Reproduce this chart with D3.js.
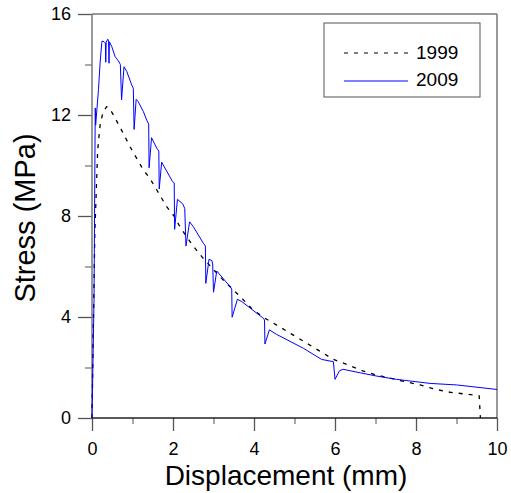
<!DOCTYPE html>
<html>
<head>
<meta charset="UTF-8">
<script src="https://d3js.org/d3.v7.min.js"></script>
<style>
  body { margin: 0; background: #fff; font-family: Arial, "Liberation Sans", sans-serif; }
  .tick text { font-size: 18px; fill: #000; font-family: Arial, "Liberation Sans", sans-serif; }
</style>
</head>
<body>
<svg id="chart" width="511" height="493"></svg>
<script>
// displacement (mm), stress (MPa)
const x1999 = [0, 0.03, 0.07, 0.14, 0.20, 0.27, 0.36, 0.42, 0.53, 0.77, 0.94, 1.10, 1.27, 1.43, 1.60, 1.84, 2.02, 2.15, 2.32, 2.50, 2.71, 3.20, 3.45, 3.70, 3.94, 4.23, 4.56, 4.87, 5.18, 5.51, 5.96, 6.33, 6.68, 7.03, 7.73, 8.10, 8.47, 8.84, 9.21, 9.56, 9.59];
const y1999 = [0, 3.37, 7.33, 10.61, 11.6, 12.1, 12.33, 12.3, 12.0, 11.28, 10.74, 10.29, 9.82, 9.49, 9.03, 8.38, 8.01, 7.64, 7.21, 6.81, 6.39, 5.53, 5.14, 4.74, 4.34, 3.99, 3.68, 3.38, 3.08, 2.76, 2.32, 2.10, 1.87, 1.70, 1.44, 1.31, 1.14, 1.02, 0.95, 0.88, 0];

const x2009 = [0, 0.05, 0.08, 0.09, 0.11, 0.16, 0.20, 0.24, 0.25, 0.30, 0.33, 0.34, 0.35, 0.39, 0.41, 0.42, 0.43, 0.49, 0.57, 0.65, 0.70, 0.73, 0.79, 0.86, 0.98, 1.02, 1.04, 1.09, 1.14, 1.27, 1.35, 1.40, 1.41, 1.47, 1.60, 1.65, 1.66, 1.72, 1.99, 2.03, 2.04, 2.11, 2.24, 2.29, 2.32, 2.41, 2.50, 2.75, 2.80, 2.81, 2.89, 2.96, 2.98, 3.00, 3.08, 3.41, 3.45, 3.46, 3.59, 3.70, 4.23, 4.26, 4.27, 4.38, 4.56, 5.22, 5.67, 5.96, 6.00, 6.11, 6.20, 6.62, 7.03, 7.52, 8.35, 9.00, 10.0];
const y2009 = [0, 4.67, 12.28, 11.6, 12.0, 13.0, 14.06, 14.84, 14.93, 14.9, 14.85, 14.09, 14.89, 15.0, 14.93, 14.05, 14.9, 14.7, 14.31, 14.15, 14.0, 12.6, 13.91, 13.72, 13.19, 13.06, 11.43, 12.62, 12.53, 12.13, 11.8, 11.64, 9.91, 11.1, 10.68, 10.57, 9.07, 10.13, 9.36, 9.31, 7.47, 8.66, 8.48, 8.3, 6.81, 7.77, 7.58, 6.92, 6.81, 5.33, 6.29, 6.23, 6.1, 4.98, 5.82, 5.2, 5.11, 3.99, 4.7, 4.61, 3.95, 3.88, 2.93, 3.49, 3.31, 2.76, 2.32, 2.23, 1.53, 1.87, 1.93, 1.79, 1.66, 1.53, 1.37, 1.31, 1.13];

const seriesNames = ["1999", "2009"];
const xTicks = [0, 2, 4, 6, 8, 10];
const yTicks = [0, 4, 8, 12, 16];

const margin = { top: 14, right: 14, bottom: 75, left: 92 },
      width = 511 - margin.left - margin.right,
      height = 493 - margin.top - margin.bottom;

const svg = d3.select("#chart")
  .append("g")
  .attr("transform", `translate(${margin.left},${margin.top})`);

const x = d3.scaleLinear().domain([0, 10]).range([0, width]);
const y = d3.scaleLinear().domain([0, 16]).range([height, 0]);

// minor ticks
svg.append("g")
  .attr("transform", `translate(0,${height})`)
  .call(d3.axisBottom(x).tickValues([1, 3, 5, 7, 9]).tickSize(6).tickFormat(""))
  .call(g => g.select(".domain").remove())
  .selectAll("line").attr("stroke", "#555");
svg.append("g")
  .call(d3.axisLeft(y).tickValues([2, 6, 10, 14]).tickSize(7).tickFormat(""))
  .call(g => g.select(".domain").remove())
  .selectAll("line").attr("stroke", "#555");

// major ticks
const xAxis = svg.append("g")
  .attr("transform", `translate(0,${height})`)
  .call(d3.axisBottom(x).tickValues(xTicks).tickSize(13).tickPadding(11.5));
xAxis.select(".domain").remove();
xAxis.selectAll("line").attr("stroke", "#555").attr("stroke-width", 1.3);

const yAxis = svg.append("g")
  .call(d3.axisLeft(y).tickValues(yTicks).tickSize(14).tickPadding(7));
yAxis.select(".domain").remove();
yAxis.selectAll("line").attr("stroke", "#555").attr("stroke-width", 1.3);

// frame
svg.append("line").attr("x1", 0).attr("x2", width).attr("y1", 0).attr("y2", 0)
  .attr("stroke", "#777").attr("stroke-width", 1.5);
svg.append("line").attr("x1", width).attr("x2", width).attr("y1", 0).attr("y2", height)
  .attr("stroke", "#777").attr("stroke-width", 1.5);
svg.append("line").attr("x1", 0).attr("x2", 0).attr("y1", 0).attr("y2", height)
  .attr("stroke", "#777").attr("stroke-width", 1.5);
svg.append("line").attr("x1", 0).attr("x2", width).attr("y1", height).attr("y2", height)
  .attr("stroke", "#222").attr("stroke-width", 1.3);

const line = d3.line().x(d => x(d[0])).y(d => y(d[1]));

svg.append("path")
  .datum(x1999.map((v, i) => [v, y1999[i]]))
  .attr("fill", "none")
  .attr("stroke", "#000")
  .attr("stroke-width", 1.3)
  .attr("stroke-dasharray", "4,6")
  .attr("d", line);

svg.append("path")
  .datum(x2009.map((v, i) => [v, y2009[i]]))
  .attr("fill", "none")
  .attr("stroke", "#0000ff")
  .attr("stroke-width", 1)
  .attr("d", line);

// legend
const lg = svg.append("g").attr("transform", "translate(232,9)");
lg.append("rect").attr("width", 156).attr("height", 74)
  .attr("fill", "#fff").attr("stroke", "#555").attr("stroke-width", 1);
lg.append("line").attr("x1", 20).attr("x2", 84).attr("y1", 30).attr("y2", 30)
  .attr("stroke", "#000").attr("stroke-width", 1.2).attr("stroke-dasharray", "4,6");
lg.append("line").attr("x1", 20).attr("x2", 84).attr("y1", 58).attr("y2", 58)
  .attr("stroke", "#0000ff").attr("stroke-width", 1);
lg.selectAll("text.leg").data(seriesNames).enter().append("text")
  .attr("x", 92).attr("y", (d, i) => 36 + i * 26.5)
  .style("font-size", "19px")
  .text(d => d);

// axis titles
svg.append("text")
  .attr("x", width / 2 - 8.5)
  .attr("y", height + 67)
  .attr("text-anchor", "middle")
  .style("font-size", "28px")
  .text("Displacement (mm)");

svg.append("text")
  .attr("transform", `translate(-57,${height / 2 + 2}) rotate(-90)`)
  .attr("text-anchor", "middle")
  .style("font-size", "29px")
  .text("Stress (MPa)");
</script>
</body>
</html>
